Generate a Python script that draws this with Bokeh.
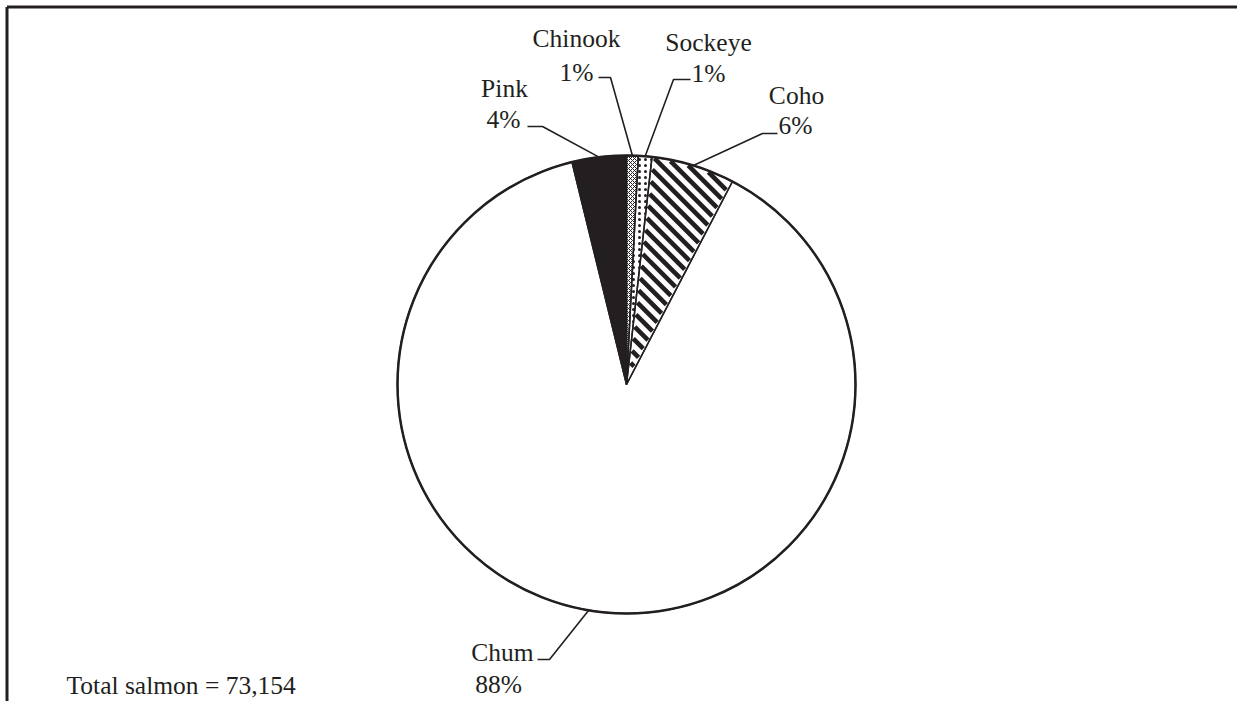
import math
from bokeh.plotting import figure
from bokeh.models import ColumnDataSource
from bokeh.core.properties import value
from bokeh.embed import file_html
from bokeh.resources import INLINE

# ---- data ----
species = ["Chinook", "Sockeye", "Coho", "Chum", "Pink"]
counts = [600, 700, 4300, 64754, 2800]
pct_labels = ["1%", "1%", "6%", "88%", "4%"]
total_label = "Total salmon = 73,154"

# ---- styles / layout ----
fills = ["white", "white", "white", "white", "#231f20"]
hatches = ["diagonal_cross", "dot", "blank", "blank", "blank"]
hatch_scales = [4, 6, 1, 1, 1]
hatch_weights = [1, 1.6, 1, 1, 1]
STRIPED = 2            # index of the slice drawn with thick diagonal stripes
STRIPE_GAP = 9.5       # perpendicular stripe period, px
STRIPE_W = 4.6         # stripe width, px
INK = "#231f20"
FS = "25.5px"

W, H = 1237, 701
def sx(x):
    return x
def sy(y):
    return H - y

CX, CY, R = 626, 384, 229
name_pos = [(576, 38), (708, 42), (796, 95), (502, 652), (504, 88)]
pct_pos = [(576, 72), (708, 73), (795, 125), (498, 684), (503, 119)]
elbow = [(610, 77), (673, 79), (762, 133), (549, 659), (542, 126)]
tick_end = [(598, 77), (690, 79), (777, 133), (537, 659), (527, 126)]
anchor_override = {3: 189.5}  # degrees clockwise from top

total = sum(counts)
cum = 0.0
starts, ends, mids, f_lo, f_hi = [], [], [], [], []
for c in counts:
    f0 = cum / total
    cum += c
    f1 = cum / total
    f_lo.append(f0)
    f_hi.append(f1)
    starts.append(math.pi / 2 - 2 * math.pi * f0)
    ends.append(math.pi / 2 - 2 * math.pi * f1)
    mids.append(360 * (f0 + f1) / 2)

p = figure(width=W, height=H, x_range=(0, W), y_range=(0, H),
           output_backend="svg", toolbar_location=None, min_border=0)
p.axis.visible = False
p.grid.visible = False
p.outline_line_color = None
p.background_fill_color = "white"

src = ColumnDataSource(dict(start=starts, end=ends, fill=fills, hatch=hatches,
                            hs=hatch_scales, hw=hatch_weights))
p.wedge(x=sx(CX), y=sy(CY), radius=R, start_angle="start", end_angle="end",
        direction="clock", source=src, fill_color="fill", line_color=None,
        hatch_pattern="hatch", hatch_scale="hs",
        hatch_weight="hw", hatch_color=INK)

# thick "\" stripes clipped to the striped slice (screen coords, y down)
a0 = 2 * math.pi * f_lo[STRIPED]
a1 = 2 * math.pi * f_hi[STRIPED]
def inside(x, y):
    dx, dy = x - CX, y - CY
    r = math.hypot(dx, dy)
    if r > R - 1.2 or r < 1e-6:
        return False
    ang = math.atan2(dx, -dy) % (2 * math.pi)   # clockwise from top
    pad = 1.5 / max(r, 1.0)
    return a0 + pad <= ang <= a1 - pad
sx0, sy0, sx1, sy1 = [], [], [], []
kstep = STRIPE_GAP * math.sqrt(2)
k = -R * 2
while k < R * 2:
    pts = []
    t = -R * 1.5
    while t <= R * 1.5:
        x = CX + k / 2 + t
        y = CY - k / 2 + t
        if inside(x, y):
            pts.append((x, y))
        t += 0.25
    if len(pts) > 2:
        sx0.append(sx(pts[0][0])); sy0.append(sy(pts[0][1]))
        sx1.append(sx(pts[-1][0])); sy1.append(sy(pts[-1][1]))
    k += kstep
p.segment(x0=sx0, y0=sy0, x1=sx1, y1=sy1, line_color=INK,
          line_width=STRIPE_W, line_cap="butt")

# slice outlines on top
p.wedge(x=sx(CX), y=sy(CY), radius=R, start_angle="start", end_angle="end",
        direction="clock", source=src, fill_color=None, line_color=INK,
        line_width=1.5)
p.circle(x=[sx(CX)], y=[sy(CY)], radius=R, fill_color=None,
         line_color=INK, line_width=2.5)

# leader lines
xs, ys = [], []
for i in range(len(species)):
    ang = math.radians(anchor_override.get(i, mids[i]))
    ax = CX + R * math.sin(ang)
    ay = CY - R * math.cos(ang)
    xs.append([sx(ax), sx(elbow[i][0]), sx(tick_end[i][0])])
    ys.append([sy(ay), sy(elbow[i][1]), sy(tick_end[i][1])])
p.multi_line(xs=xs, ys=ys, line_color=INK, line_width=1.6)

font = value("Liberation Serif")
p.text(x=[sx(a[0]) for a in name_pos], y=[sy(a[1]) for a in name_pos], text=species,
       text_font=font, text_font_size=FS, text_align="center",
       text_baseline="middle", text_color=INK)
p.text(x=[sx(a[0]) for a in pct_pos], y=[sy(a[1]) for a in pct_pos], text=pct_labels,
       text_font=font, text_font_size=FS, text_align="center",
       text_baseline="middle", text_color=INK)
p.text(x=[sx(66)], y=[sy(685)], text=[total_label], text_font=font,
       text_font_size=FS, text_align="left", text_baseline="middle",
       text_color=INK)

# frame (top and left borders)
p.segment(x0=[sx(6.5), sx(6.5)], y0=[sy(6.5), sy(6.5)], x1=[sx(1237), sx(6.5)],
          y1=[sy(6.5), sy(701)], line_color=INK, line_width=3)

open("out.html", "w").write(file_html(p, INLINE))
